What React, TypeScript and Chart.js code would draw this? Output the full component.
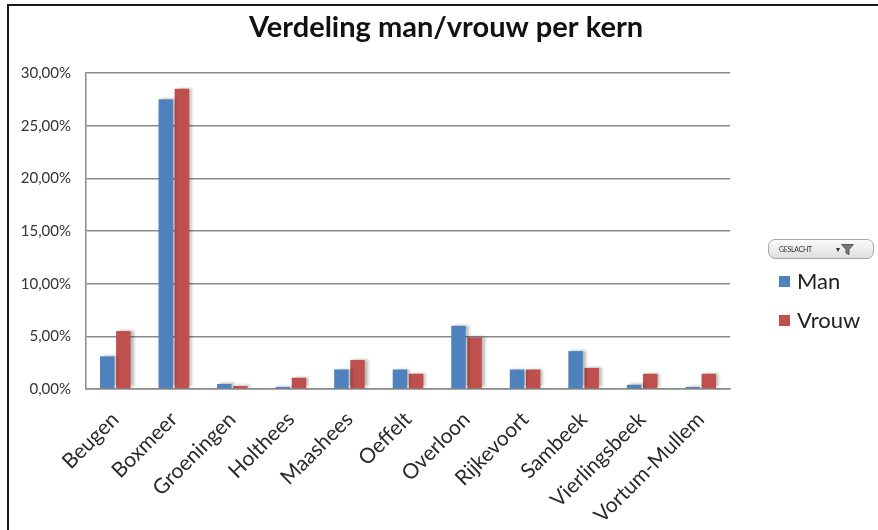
import React, { useEffect, useRef } from "react";
import { Chart, registerables } from "chart.js";

Chart.register(...registerables);

const categories = [
  "Beugen",
  "Boxmeer",
  "Groeningen",
  "Holthees",
  "Maashees",
  "Oeffelt",
  "Overloon",
  "Rijkevoort",
  "Sambeek",
  "Vierlingsbeek",
  "Vortum-Mullem",
];
const manValues = [3.1, 27.5, 0.48, 0.2, 1.85, 1.85, 6.0, 1.85, 3.6, 0.4, 0.2];
const vrouwValues = [5.5, 28.5, 0.28, 1.07, 2.75, 1.45, 4.9, 1.85, 2.0, 1.45, 1.45];
const seriesNames = ["Man", "Vrouw"];
const seriesColors = ["#4F81BD", "#C0504D"];
const yTicks = [0, 5, 10, 15, 20, 25, 30];
const titleText = "Verdeling man/vrouw per kern";
const filterLabel = "GESLACHT";

const FONT = "Lato, 'Open Sans', sans-serif";

const shadowPlugin = {
  id: "barShadow",
  beforeDatasetDraw(chart: any) {
    const ctx = chart.ctx;
    ctx.save();
    ctx.shadowColor = "rgba(0,0,0,0.28)";
    ctx.shadowBlur = 3;
    ctx.shadowOffsetX = 3;
    ctx.shadowOffsetY = -1;
  },
  afterDatasetDraw(chart: any) {
    chart.ctx.restore();
  },
};

export default function App() {
  const ref = useRef<HTMLCanvasElement | null>(null);

  useEffect(() => {
    if (!ref.current) return;
    const chart = new Chart(ref.current, {
      type: "bar",
      data: {
        labels: categories,
        datasets: [
          {
            label: seriesNames[0],
            data: manValues,
            backgroundColor: seriesColors[0],
            categoryPercentage: 0.55,
            barPercentage: 0.9,
          },
          {
            label: seriesNames[1],
            data: vrouwValues,
            backgroundColor: seriesColors[1],
            categoryPercentage: 0.55,
            barPercentage: 0.9,
          },
        ],
      },
      plugins: [shadowPlugin],
      options: {
        responsive: false,
        animation: false,
        devicePixelRatio: 1,
        layout: { padding: { left: 14, right: 0, top: 0, bottom: 0 } },
        plugins: {
          legend: { display: false },
          tooltip: { enabled: false },
          title: {
            display: true,
            text: titleText,
            color: "#111",
            font: { family: FONT, size: 29, weight: "bold", lineHeight: 1.2 },
            padding: { top: 10, bottom: 28.2 },
          },
        },
        scales: {
          x: {
            grid: { display: false, drawTicks: false },
            border: { display: true, color: "#8a8a8a", width: 1.5 },
            ticks: {
              color: "#2a2a2a",
              font: { family: FONT, size: 21 },
              minRotation: 45,
              maxRotation: 45,
              padding: 18,
            },
            afterFit: (s: any) => {
              s.height = 141;
            },
          },
          y: {
            min: 0,
            max: 30,
            afterBuildTicks: (s: any) => {
              s.ticks = yTicks.map((v) => ({ value: v }));
            },
            grid: { color: "#8a8a8a", lineWidth: 1.5, drawTicks: false },
            border: { display: true, color: "#8a8a8a", width: 1.5 },
            ticks: {
              color: "#333",
              padding: 15,
              font: { family: FONT, size: 15 },
              callback: (v: any) => Number(v).toFixed(2).replace(".", ",") + "%",
            },
            afterFit: (s: any) => {
              s.width = 72;
            },
          },
          yR: {
            position: "right",
            display: true,
            grid: { display: false, drawTicks: false },
            border: { display: false },
            ticks: { display: false },
            afterFit: (s: any) => {
              s.width = 148;
            },
          },
        },
      },
    });
    return () => chart.destroy();
  }, []);

  const legendText: React.CSSProperties = {
    position: "absolute",
    left: 797,
    fontFamily: FONT,
    fontSize: 22,
    color: "#222",
    lineHeight: "24px",
  };

  return (
    <div style={{ position: "fixed", left: 0, top: 0, width: 878, height: 530, background: "#fff", overflow: "hidden" }}>
      <canvas ref={ref} width={878} height={530} style={{ position: "absolute", left: 0, top: 0 }} />
      <div
        style={{
          position: "absolute",
          left: 7,
          top: 4,
          width: 871,
          height: 526,
          borderTop: "2px solid #1a1a1a",
          borderLeft: "2px solid #1a1a1a",
          boxSizing: "border-box",
          pointerEvents: "none",
        }}
      />
      <div
        style={{
          position: "absolute",
          left: 768,
          top: 239,
          width: 106,
          height: 20,
          borderRadius: 7,
          border: "1px solid #a8a8a8",
          background: "linear-gradient(#fbfbfb, #dedede)",
          boxSizing: "border-box",
          display: "flex",
          alignItems: "center",
          fontFamily: FONT,
          fontSize: 7,
          color: "#333",
          paddingLeft: 10,
        }}
      >
        <span style={{ letterSpacing: -0.3 }}>{filterLabel}</span>
        <span style={{ marginLeft: 24, fontSize: 8 }}>▾</span>
        <svg width="13" height="11" viewBox="0 0 13 11" style={{ marginLeft: 1 }}>
          <path d="M0.5 0.5 H12.5 L8 5.5 V10.5 L5 9 V5.5 Z" fill="#777" stroke="#444" strokeWidth="0.8" />
        </svg>
      </div>
      <div style={{ position: "absolute", left: 779, top: 276, width: 11, height: 11, background: seriesColors[0] }} />
      <div style={{ ...legendText, top: 269 }}>{seriesNames[0]}</div>
      <div style={{ position: "absolute", left: 779, top: 315, width: 11, height: 11, background: seriesColors[1] }} />
      <div style={{ ...legendText, top: 308 }}>{seriesNames[1]}</div>
    </div>
  );
}
